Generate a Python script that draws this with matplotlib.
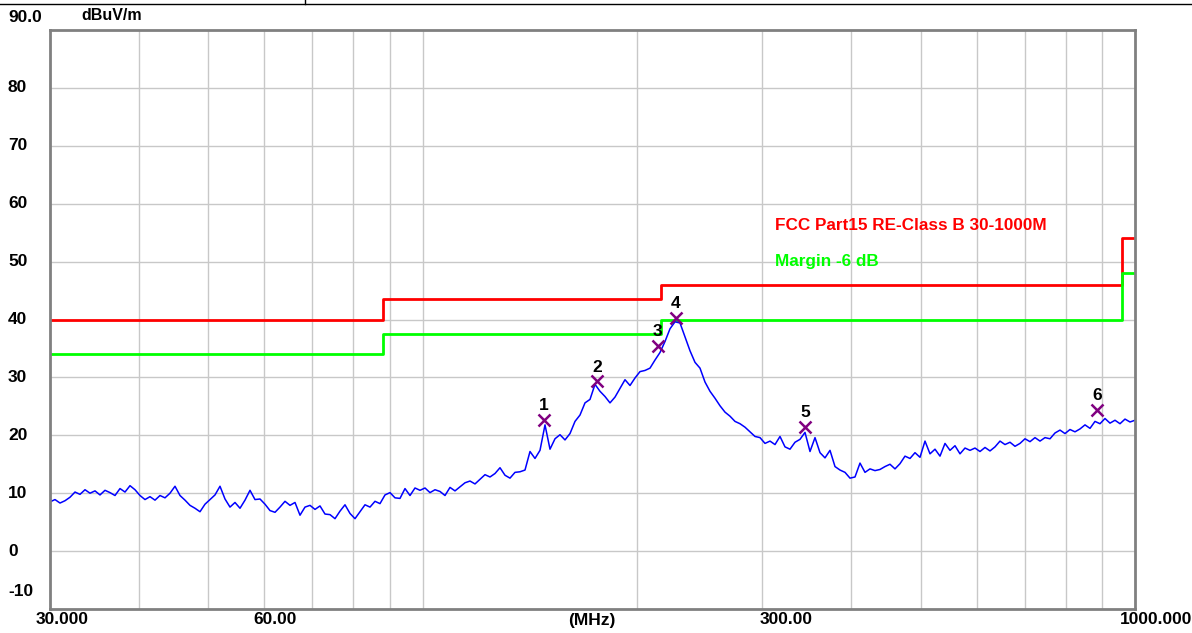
import numpy as np
import matplotlib
matplotlib.use("Agg")
import matplotlib.pyplot as plt
from matplotlib.ticker import NullFormatter, NullLocator
import matplotlib.transforms as mtransforms

# --- datos (dBuV/m frente a MHz) ---
LIMIT_FREQ = [30, 88, 216, 960, 1000]
LIMIT_LEVEL = [40, 43.5, 46, 54, 54]
MARGIN_LEVEL = [34, 37.5, 40, 48, 48]

MARK_FREQ = [148.0, 175.7, 214.0, 226.8, 344.0, 884.0]
MARK_LEVEL = [22.6, 29.3, 35.5, 40.3, 21.5, 24.3]
MARK_LABEL = ["1", "2", "3", "4", "5", "6"]

# barrido medido, espaciado logaritmico de 30 a 1000 MHz
TRACE_LEVEL = [
    8.5, 8.9, 8.3, 8.7, 9.3, 10.2, 9.8, 10.6, 10.0, 10.4,
    9.7, 10.5, 10.1, 9.6, 10.8, 10.2, 11.3, 10.6, 9.6, 8.9,
    9.4, 8.8, 9.6, 9.2, 10.0, 11.2, 9.6, 8.8, 7.9, 7.4,
    6.8, 8.1, 8.9, 9.7, 11.2, 9.0, 7.6, 8.4, 7.4, 8.8,
    10.5, 8.9, 9.0, 8.1, 7.0, 6.7, 7.6, 8.6, 7.9, 8.4,
    6.2, 7.6, 7.9, 7.2, 7.8, 6.4, 6.3, 5.6, 6.9, 8.0,
    6.5, 5.6, 6.8, 8.0, 7.6, 8.6, 8.2, 9.7, 10.1, 9.2,
    9.1, 10.8, 9.6, 10.9, 10.5, 10.9, 10.1, 10.6, 10.3, 9.6,
    11.0, 10.4, 11.1, 11.8, 12.1, 11.6, 12.4, 13.2, 12.8, 13.4,
    14.4, 13.1, 12.6, 13.6, 13.7, 14.0, 17.2, 16.0, 17.4, 21.8,
    17.6, 19.4, 20.1, 19.2, 20.3, 22.4, 23.5, 25.6, 26.2, 28.8,
    27.6, 26.7, 25.6, 26.6, 28.1, 29.6, 28.6, 29.9, 31.0, 31.2,
    31.6, 33.0, 34.3, 36.2, 38.4, 39.6, 39.4, 37.0, 34.6, 32.6,
    31.6, 29.2, 27.6, 26.4, 25.1, 24.0, 23.3, 22.4, 22.0, 21.4,
    20.6, 19.8, 19.6, 18.6, 19.0, 18.4, 19.8, 18.0, 17.6, 18.8,
    19.3, 20.5, 17.2, 19.6, 17.0, 16.1, 17.4, 14.6, 14.0, 13.6,
    12.6, 12.8, 15.2, 13.6, 14.2, 13.9, 14.1, 14.6, 15.0, 14.2,
    15.1, 16.4, 16.0, 17.0, 16.2, 19.0, 16.8, 17.6, 16.4, 18.6,
    17.4, 18.2, 16.8, 17.8, 17.4, 17.8, 17.2, 17.9, 17.3, 18.0,
    19.0, 18.4, 18.8, 18.1, 18.6, 19.4, 18.9, 19.6, 19.0, 19.6,
    19.4, 20.4, 20.9, 20.3, 21.0, 20.6, 21.1, 21.8, 21.2, 22.4,
    22.0, 22.9, 22.1, 22.6, 22.0, 22.8, 22.3, 22.6,
]

Y_TICKS = [0, 10, 20, 30, 40, 50, 60, 70, 80]
X_GRID = [40, 50, 60, 70, 80, 90, 100, 200, 300, 400, 500, 600, 700, 800, 900]
X_LABEL_FREQ = [30, 60, 300]
X_LABEL_TEXT = ["30.000", "60.00", "300.00"]

W, H = 1192, 633
FONT = "Liberation Sans"
FS = 12.5

fig = plt.figure(figsize=(W / 100, H / 100), dpi=100)
ax = fig.add_axes([50 / W, (H - 609) / H, 1085 / W, 579 / H])

ax.set_xscale("log")
ax.set_xlim(30, 1000)
ax.set_ylim(-10, 90)

# rejilla
ax.set_xticks(X_GRID)
ax.xaxis.set_minor_locator(NullLocator())
ax.xaxis.set_major_formatter(NullFormatter())
ax.xaxis.set_minor_formatter(NullFormatter())
ax.set_yticks(Y_TICKS)
ax.yaxis.set_major_formatter(NullFormatter())
ax.tick_params(length=0)
ax.grid(True, color="#c8c8c8", linewidth=1.0)
ax.set_axisbelow(True)
for s in ax.spines.values():
    s.set_color("#808080")
    s.set_linewidth(2.0)

# lineas limite
ax.step(LIMIT_FREQ, LIMIT_LEVEL, where="post", color="#ff0000", lw=2.0)
ax.step(LIMIT_FREQ, MARGIN_LEVEL, where="post", color="#00ff00", lw=2.0)

# traza
freq = np.geomspace(30, 1000, len(TRACE_LEVEL))
ax.plot(freq, TRACE_LEVEL, color="#0000ff", lw=1.1)

# marcadores
ax.plot(MARK_FREQ, MARK_LEVEL, "x", color="#800080", ms=9, mew=1.8)
for f, v, t in zip(MARK_FREQ, MARK_LEVEL, MARK_LABEL):
    ax.annotate(t, (f, v), xytext=(0, 5), textcoords="offset points",
                ha="center", va="bottom", fontsize=FS, fontweight="bold",
                family=FONT, color="black")

# leyenda como texto
ax.text(0.668, 0.663, "FCC Part15 RE-Class B 30-1000M", transform=ax.transAxes,
        color="#ff0000", fontsize=12.3, fontweight="bold", family=FONT,
        va="center", ha="left")
ax.text(0.668, 0.601, "Margin -6 dB", transform=ax.transAxes,
        color="#00ff00", fontsize=12.3, fontweight="bold", family=FONT,
        va="center", ha="left")

# etiquetas del eje y
ytr = mtransforms.blended_transform_factory(ax.transAxes, ax.transData)
xl = -42 / 1085
for v in Y_TICKS:
    ax.text(xl, v, str(v), transform=ytr, ha="left", va="center",
            fontsize=FS, fontweight="bold", family=FONT, clip_on=False)
ax.text(xl, -6.9, "-10", transform=ytr, ha="left", va="center",
        fontsize=FS, fontweight="bold", family=FONT, clip_on=False)
ax.text(xl, 92.2, "90.0", transform=ytr, ha="left", va="center",
        fontsize=FS, fontweight="bold", family=FONT, clip_on=False)
fig.text(112 / W, 1 - 16 / H, "dBuV/m", ha="center", va="center",
         fontsize=11.5, fontweight="bold", family=FONT)

# etiquetas del eje x
xtr = mtransforms.blended_transform_factory(ax.transData, ax.transAxes)
yl = -11 / 579
for f, t, dx in zip(X_LABEL_FREQ, X_LABEL_TEXT, [12, 11, 24]):
    ax.annotate(t, (f, yl), xycoords=xtr, xytext=(dx * 0.72, 0),
                textcoords="offset points", ha="center", va="center",
                fontsize=FS, fontweight="bold", family=FONT, annotation_clip=False)
fig.text(592 / W, 1 - 620 / H, "(MHz)", ha="center", va="center",
         fontsize=FS, fontweight="bold", family=FONT)
fig.text(1192 / W, 1 - 620 / H, "1000.000", ha="right", va="center",
         fontsize=FS, fontweight="bold", family=FONT)

# linea superior de la ventana
fig.add_artist(plt.Line2D([0, 1], [1 - 3.5 / H, 1 - 3.5 / H], color="black", lw=1.0))
fig.add_artist(plt.Line2D([305 / W, 305 / W], [1 - 3.5 / H, 1], color="black", lw=1.0))

fig.savefig("out.png", dpi=100)
